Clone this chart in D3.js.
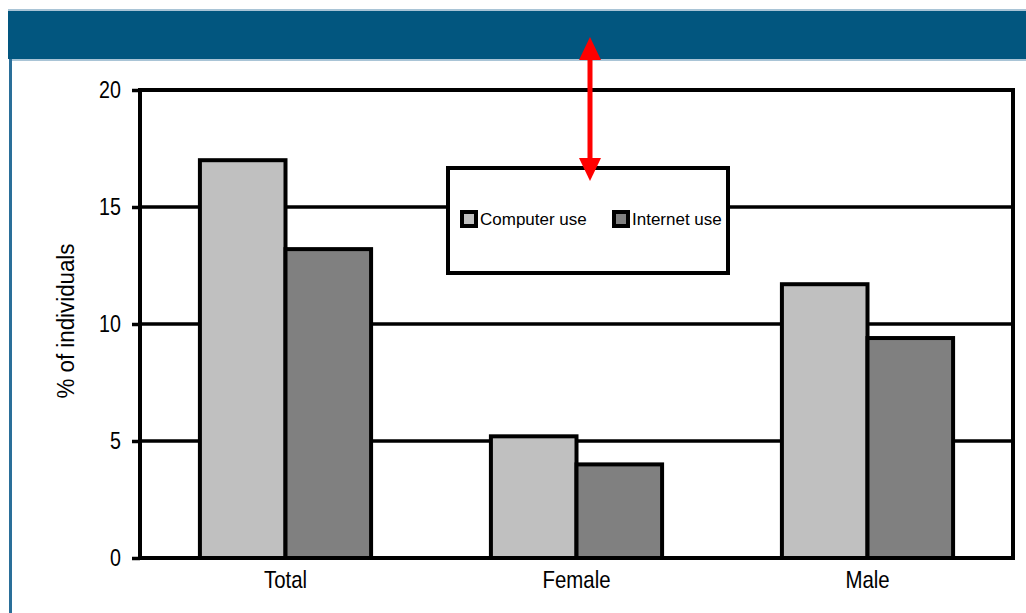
<!DOCTYPE html>
<html>
<head>
<meta charset="utf-8">
<script src="https://cdn.jsdelivr.net/npm/d3@7"></script>
<style>
  html, body { margin: 0; padding: 0; background: #fff; }
  svg { display: block; }
  text { font-family: "Liberation Sans", Arial, sans-serif; fill: #000; }
</style>
</head>
<body>
<svg id="chart" width="1026" height="613"></svg>
<script>
// Share of individuals using computers / the internet, by sex
const categories = ["Total", "Female", "Male"];
const seriesNames = ["Computer use", "Internet use"];
const computerUse = [17.0, 5.2, 11.7];
const internetUse = [13.2, 4.0, 9.4];
const yTicks = [0, 5, 10, 15, 20];
const seriesColors = ["#c0c0c0", "#808080"];

const svg = d3.select("#chart");
const W = 1026, H = 613;
const narrow = 0.82; // horizontal squeeze for the condensed axis lettering

// page header band and left rule
svg.append("rect").attr("x", 8).attr("y", 11).attr("width", W - 8).attr("height", 48).attr("fill", "#02567f");
svg.append("rect").attr("x", 9).attr("y", 59).attr("width", 3).attr("height", H - 59).attr("fill", "#2a6f99");
svg.append("rect").attr("x", 8).attr("y", 9).attr("width", W - 8).attr("height", 2).attr("fill", "#a9c4d6");
svg.append("rect").attr("x", 12).attr("y", 59).attr("width", W - 12).attr("height", 2).attr("fill", "#a9c4d6");

const m = { left: 140, right: 1013, top: 90, bottom: 558 };

const x = d3.scaleBand().domain(categories).range([m.left, m.right]);
const inner = d3.scaleBand().domain(seriesNames).range([0, x.bandwidth()]).paddingInner(0).paddingOuter(0.7);
const y = d3.scaleLinear().domain([0, 20]).range([m.bottom, m.top]);

const g = svg.append("g");

// horizontal gridlines
g.selectAll("line.grid").data(yTicks.filter(d => d > 0 && d < 20)).join("line")
  .attr("x1", m.left).attr("x2", m.right)
  .attr("y1", d => y(d)).attr("y2", d => y(d))
  .attr("stroke", "#000").attr("stroke-width", 3.5);

// bars
const rows = categories.map((c, i) => ({ c, vals: [computerUse[i], internetUse[i]] }));
const groups = g.selectAll("g.cat").data(rows).join("g")
  .attr("transform", d => `translate(${x(d.c)},0)`);
groups.selectAll("rect").data(d => d.vals.map((v, j) => ({ v, s: seriesNames[j], j }))).join("rect")
  .attr("x", d => inner(d.s))
  .attr("width", inner.bandwidth())
  .attr("y", d => y(d.v))
  .attr("height", d => y(0) - y(d.v))
  .attr("fill", d => seriesColors[d.j])
  .attr("stroke", "#000").attr("stroke-width", 4);

// frame
g.append("rect").attr("x", m.left).attr("y", m.top)
  .attr("width", m.right - m.left).attr("height", m.bottom - m.top)
  .attr("fill", "none").attr("stroke", "#000").attr("stroke-width", 4);

// y axis
const yAxis = d3.axisLeft(y).tickValues(yTicks).tickSize(8).tickPadding(11).tickFormat(d3.format("d"));
const ya = svg.append("g").attr("transform", `translate(${m.left},0)`).call(yAxis);
ya.select(".domain").remove();
ya.selectAll(".tick line").attr("stroke", "#000").attr("stroke-width", 3.5);
ya.selectAll(".tick text")
  .attr("font-size", 24).attr("fill", "#000")
  .attr("x", -19 / narrow)
  .attr("transform", `scale(${narrow},1)`);

// x axis labels
const xAxis = d3.axisBottom(x).tickSize(0).tickPadding(13);
const xa = svg.append("g").attr("transform", `translate(0,${m.bottom})`).call(xAxis);
xa.select(".domain").remove();
xa.selectAll(".tick text")
  .attr("font-size", 24).attr("fill", "#000")
  .attr("transform", `scale(${narrow + 0.03},1)`);

// y axis title
svg.append("text")
  .attr("transform", `translate(74,321) rotate(-90) scale(0.93,1)`)
  .attr("text-anchor", "middle").attr("font-size", 24)
  .text("% of individuals");

// legend
const lg = svg.append("g").attr("transform", "translate(447,167)");
lg.append("rect").attr("x", 1).attr("y", 1).attr("width", 280).attr("height", 105)
  .attr("fill", "#fff").attr("stroke", "#000").attr("stroke-width", 4);
const swatchX = [15, 167];
const labelX = [33, 185];
seriesNames.forEach((s, i) => {
  lg.append("rect").attr("x", swatchX[i]).attr("y", 45).attr("width", 14).attr("height", 14)
    .attr("fill", seriesColors[i]).attr("stroke", "#000").attr("stroke-width", 4);
  lg.append("text").attr("x", labelX[i]).attr("y", 58).attr("font-size", 17).text(s);
});

// red double-headed arrow marker
const ax = 590, aTop = 37, aBot = 181;
svg.append("rect").attr("x", ax - 2.5).attr("y", aTop + 20).attr("width", 5).attr("height", aBot - aTop - 40).attr("fill", "#ff0000");
svg.append("path").attr("d", `M${ax},${aTop} L${ax - 11},${aTop + 23} L${ax + 11},${aTop + 23} Z`).attr("fill", "#ff0000");
svg.append("path").attr("d", `M${ax},${aBot} L${ax - 11},${aBot - 23} L${ax + 11},${aBot - 23} Z`).attr("fill", "#ff0000");
</script>
</body>
</html>
